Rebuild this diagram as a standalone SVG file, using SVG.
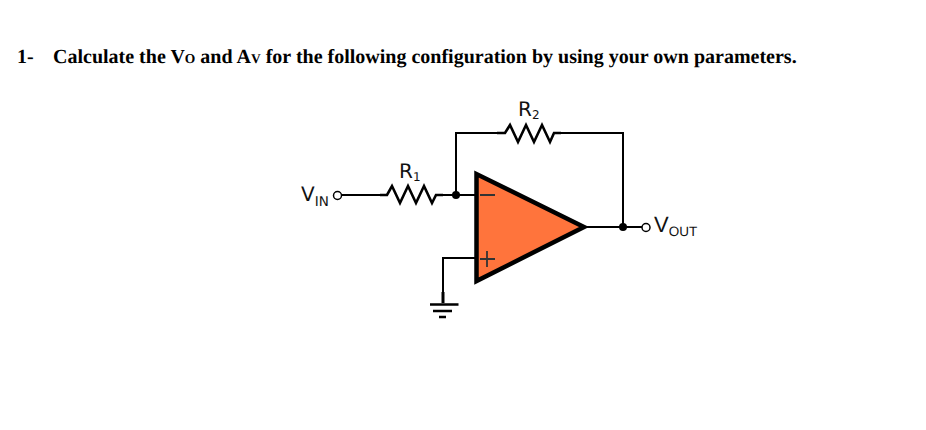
<svg xmlns="http://www.w3.org/2000/svg" width="926" height="430" viewBox="0 0 926 430">
<style>
.w{fill:none;stroke:#000;stroke-width:2}
.r{fill:none;stroke:#000;stroke-width:2.6;stroke-linejoin:miter}
.dot{fill:#000}
.term{fill:#fff;stroke:#000;stroke-width:1.5}
text{text-rendering:geometricPrecision}
.h{font-family:"Liberation Serif",serif;font-weight:bold;font-size:20px;fill:#000}
.l{font-family:"DejaVu Sans",sans-serif;font-size:20px;fill:#111}
.v{font-family:"Liberation Sans",sans-serif;font-size:22px;fill:#111}
</style>
<rect width="926" height="430" fill="#fff"/>
<g id="title">
<text class="h" x="17" y="63">1-</text>
<text class="h" x="53" y="63">Calculate the V<tspan font-size="13.500">O</tspan> and A<tspan font-size="13.500">V</tspan> for the following configuration by using your own parameters.</text>
</g>
<g id="connectors">
<path class="w" d="M342 195H380M436 195H476"/>
<path class="w" d="M456 195V133H497M561 133H623V227"/>
<path class="w" d="M585 227H642"/>
<path class="w" d="M476 258H443V302"/>
</g>
<g id="r1">
<path class="r" d="M380 195H387L392 186L400 203L408 186L416 203L424 186L432 203L436 195H443"/>
<text class="l" x="399" y="178">R<tspan font-size="12" dy="3">1</tspan></text>
</g>
<g id="r2">
<path class="r" d="M497 133H505L510 125L518 142L526 125L534 142L542 125L550 142L554 133H561"/>
<text class="l" x="518" y="116">R<tspan font-size="12" dy="3">2</tspan></text>
</g>
<g id="opamp">
<path d="M476.500 174V281L584 227Z" fill="#ff743c" stroke="#000" stroke-width="4.500" stroke-linejoin="miter"/>
<path d="M480 195H495M480 259H495M487 251V267" fill="none" stroke="#333" stroke-width="1.800"/>
</g>
<g id="ground">
<path d="M443 292V303" fill="none" stroke="#000" stroke-width="3"/>
<path d="M430 304.500H458.500M433 311H452M439 317H446" fill="none" stroke="#000" stroke-width="2.500"/>
</g>
<g id="junction-in"><circle class="dot" cx="456" cy="195" r="4"/></g>
<g id="junction-out"><circle class="dot" cx="623" cy="227" r="4"/></g>
<g id="vin">
<circle class="term" cx="337.500" cy="195.500" r="4"/>
<text class="l" x="301" y="201">V<tspan font-size="13.500" dy="5">IN</tspan></text>
</g>
<g id="vout">
<circle class="term" cx="646" cy="227.500" r="4"/>
<text class="v" x="654" y="232">V<tspan font-size="13.500" dy="4">OUT</tspan></text>
</g>
</svg>
